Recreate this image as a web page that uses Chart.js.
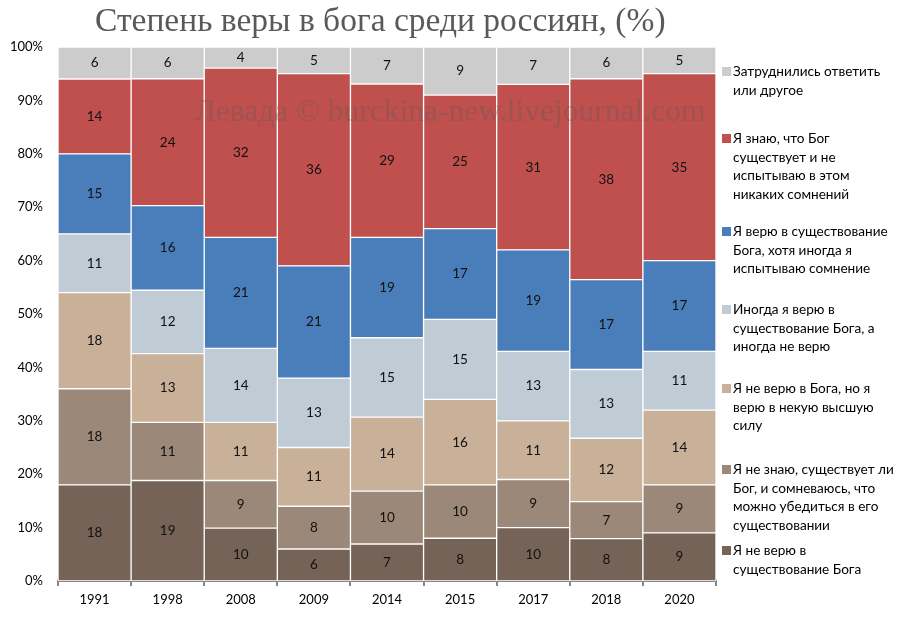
<!DOCTYPE html>
<html>
<head>
<meta charset="utf-8">
<script src="https://cdn.jsdelivr.net/npm/chart.js@4"></script>
<style>
html,body{margin:0;padding:0;background:#fff;}
#wrap{position:relative;width:900px;height:619px;}
#c{position:absolute;left:0;top:0;}
.leg{position:absolute;left:733px;font-family:Lato,"Noto Sans",sans-serif;font-size:13.6px;line-height:18.5px;color:#000;}
.leg i{position:absolute;left:-11px;top:5px;width:9px;height:9px;}
</style>
</head>
<body>
<div id="wrap">
<canvas id="c" width="900" height="619"></canvas>
<div id="legend"></div>
</div>
<script>
const categories = ['1991','1998','2008','2009','2014','2015','2017','2018','2020'];
const notBelieve   = [18,19,10,6,7,8,10,8,9];
const dontKnow     = [18,11,9,8,10,10,9,7,9];
const higherPower  = [18,13,11,11,14,16,11,12,14];
const sometimes    = [11,12,14,13,15,15,13,13,11];
const believeDoubt = [15,16,21,21,19,17,19,17,17];
const knowGod      = [14,24,32,36,29,25,31,38,35];
const hardToSay    = [6,6,4,5,7,9,7,6,5];
const yTicks = [0,10,20,30,40,50,60,70,80,90,100];

const seriesNames = [
  ['Я не верю в','существование Бога'],
  ['Я не знаю, существует ли','Бог, и сомневаюсь, что','можно убедиться в его','существовании'],
  ['Я не верю в Бога, но я','верю в некую высшую','силу'],
  ['Иногда я верю в','существование Бога, а','иногда не верю'],
  ['Я верю в существование','Бога, хотя иногда я','испытываю сомнение'],
  ['Я знаю, что Бог','существует и не','испытываю в этом','никаких сомнений'],
  ['Затруднились ответить','или другое']
];
const raw = [notBelieve,dontKnow,higherPower,sometimes,believeDoubt,knowGod,hardToSay];
const colors = ['#756357','#9c8878','#c8b099','#bfcbd5','#4a7ebb','#c0504d','#cccccc'];

const totals = categories.map((_,i)=>raw.reduce((s,a)=>s+a[i],0));
const datasets = raw.map((arr,k)=>({
  label: seriesNames[k].join(' '),
  data: arr.map((v,i)=>v/totals[i]*100),
  rawValues: arr,
  backgroundColor: colors[k],
  borderColor: '#ffffff',
  borderWidth: 1,
  borderSkipped: false,
  barPercentage: 1,
  categoryPercentage: 1
}));

const labelPlugin = {
  id:'labels',
  afterDatasetsDraw(chart){
    const ctx = chart.ctx;
    ctx.save();
    ctx.font = '13.5px Lato, "Noto Sans", sans-serif';
    ctx.fillStyle = '#111';
    ctx.textAlign = 'center';
    ctx.textBaseline = 'middle';
    chart.data.datasets.forEach((ds,di)=>{
      const meta = chart.getDatasetMeta(di);
      meta.data.forEach((bar,i)=>{
        const y = (bar.y + bar.base)/2;
        ctx.fillText(String(ds.rawValues[i]), bar.x, y);
      });
    });
    // watermark
    ctx.font = '31.5px "Liberation Serif", serif';
    ctx.fillStyle = 'rgba(90,90,90,0.33)';
    ctx.textAlign = 'center';
    ctx.fillText('Левада © burckina-new.livejournal.com', 450, 113);
    // title
    ctx.font = '33.5px "Liberation Serif", serif';
    ctx.fillStyle = '#595959';
    ctx.textAlign = 'left';
    ctx.fillText('Степень веры в бога среди россиян, (%)', 95, 22);
    ctx.restore();
  }
};

new Chart(document.getElementById('c'), {
  type:'bar',
  data:{labels:categories, datasets},
  options:{
    responsive:false,
    animation:false,
    layout:{padding:{top:47,right:184,left:0,bottom:0}},
    plugins:{legend:{display:false},tooltip:{enabled:false},title:{display:false}},
    scales:{
      x:{
        stacked:true,
        offset:true,
        grid:{display:true,drawOnChartArea:false,drawTicks:true,tickLength:5,color:'#868686',lineWidth:2,offset:true},
        border:{display:true,color:'#868686',width:2},
        ticks:{color:'#000',font:{family:'Lato, "Noto Sans", sans-serif',size:13},padding:6},
        afterFit(s){s.height=38;}
      },
      y:{
        stacked:true,
        min:0,max:100,
        afterBuildTicks(s){s.ticks = yTicks.map(v=>({value:v}));},
        grid:{display:false,drawTicks:false},
        border:{display:false},
        ticks:{color:'#000',font:{family:'Lato, "Noto Sans", sans-serif',size:13},padding:15,callback:v=>v+'%'},
        afterFit(s){s.width=58;}
      }
    }
  },
  plugins:[labelPlugin]
});

// legend (top to bottom = reverse series order)
const legTops = [62,129,222,300,379,460,541];
const legend = document.getElementById('legend');
for(let j=0;j<7;j++){
  const k = 6-j;
  const d = document.createElement('div');
  d.className='leg';
  d.style.top = legTops[j]+'px';
  d.innerHTML = '<i style="background:'+colors[k]+'"></i>'+seriesNames[k].join('<br>');
  legend.appendChild(d);
}
</script>
</body>
</html>
